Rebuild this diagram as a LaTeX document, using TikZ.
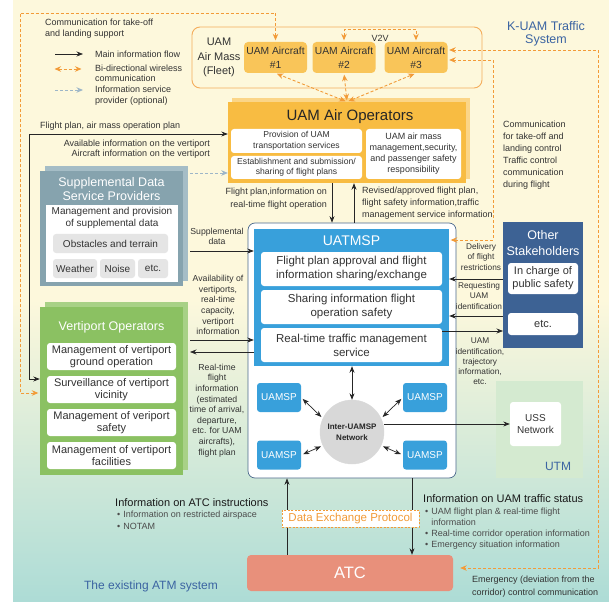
\documentclass[tikz,border=0pt]{standalone}
\usepackage{fontspec}
\setmainfont{Liberation Sans}
\usetikzlibrary{arrows.meta,calc}

\definecolor{bgtop}{HTML}{FDF8DC}
\definecolor{bgmid}{HTML}{E4EFD6}
\definecolor{bgbot}{HTML}{ADDCD6}
\definecolor{orng}{HTML}{F29B38}
\definecolor{fleetline}{HTML}{F4AD5C}
\definecolor{acfill}{HTML}{F9C559}
\definecolor{opfill}{HTML}{F8BC42}
\definecolor{opback}{HTML}{FBD587}
\definecolor{uatmblue}{HTML}{38A0DB}
\definecolor{frame}{HTML}{4C6A8C}
\definecolor{suppfront}{HTML}{86A3AE}
\definecolor{suppback}{HTML}{A5BDC6}
\definecolor{vertfront}{HTML}{8BC162}
\definecolor{vertback}{HTML}{A8D186}
\definecolor{othblue}{HTML}{3D6294}
\definecolor{utmgreen}{HTML}{D4EAD0}
\definecolor{atcred}{HTML}{E8907B}
\definecolor{netgray}{HTML}{D8D8D8}
\definecolor{txtblue}{HTML}{3B64A2}
\definecolor{grayblue}{HTML}{9DB6C8}

\newcommand{\setfs}[2]{\fontsize{#1}{#2}\selectfont}

\tikzset{
  flow/.style={-{Stealth[length=6.5pt,width=5pt]}, line width=0.7pt, black!85},
  biflow/.style={{Stealth[length=6.5pt,width=5pt]}-{Stealth[length=6.5pt,width=5pt]}, line width=0.7pt, black!85},
  wireless/.style={{Stealth[length=6.5pt,width=5.5pt]}-{Stealth[length=6.5pt,width=5.5pt]}, orng, line width=0.9pt, dash pattern=on 3pt off 2pt, shorten <=1.5pt, shorten >=1.5pt},
  optflow/.style={-{Stealth[length=6.5pt,width=5.5pt]}, grayblue, line width=0.9pt, dash pattern=on 3pt off 2pt},
  note/.style={font=\setfs{9}{11}, align=center, inner sep=0pt, text=black!80},
  layer/.style={inner sep=0pt},
  whitebox/.style={fill=white, rounded corners=3pt, align=center, inner sep=0pt, text=black!80},
  graybox/.style={fill=black!10, rounded corners=3pt, inner sep=0pt, text=black!80, font=\setfs{10}{12}},
  aircraft/.style={fill=acfill, rounded corners=4pt, minimum width=63pt, minimum height=31pt, inner sep=0pt, align=center, font=\setfs{10.3}{14}, text=black!80},
  vbox/.style={whitebox, minimum width=129pt, minimum height=27pt, font=\setfs{11}{11.8}},
  sbox/.style={whitebox, minimum width=181pt, minimum height=34pt, font=\setfs{11.5}{14}},
  uamsp/.style={fill=uatmblue, rounded corners=3pt, text=white, inner sep=0pt, minimum width=44pt, minimum height=29pt, font=\setfs{10}{12}},
}

\begin{document}
\begin{tikzpicture}[x=1pt,y=-1pt]
			%%%%% START %%%%%
			\useasboundingbox (0,0) rectangle (609,601);
			\fill[white] (0,0) rectangle (609,601);
			\fill[bgtop] (13,0) rectangle (609,300);
			\shade[top color=bgtop,middle color=bgmid,bottom color=bgbot] (13,299.5) rectangle (609,601);
			
			% legend
			\node[note,anchor=north west,align=left] (leg0) at (45,19) {Communication for take-off\\and landing support};
			\coordinate (lg1) at (55,54);
			\coordinate (lg2) at (53,69);
			\coordinate (lg3) at (55,90);
			\draw[flow] (lg1) -- ++(28,0);
			\draw[wireless] (lg2) -- ++(30,0);
			\draw[optflow] (lg3) -- ++(28,0);
			\node[note,anchor=west,align=left] (leg1) at (95,54) {Main information flow};
			\node[note,anchor=west,align=left,font=\setfs{9}{10.5}] (leg2) at (95,73.5) {Bi-directional wireless\\communication};
			\node[note,anchor=west,align=left,font=\setfs{9}{10.5}] (leg3) at (95,95.5) {Information service\\provider (optional)};
			
			\node[font=\setfs{12.5}{13},text=txtblue,align=center] (kuam) at (546,33.5) {K-UAM Traffic\\System};
			
			% fleet
			\node[draw=fleetline,line width=0.9pt,rounded corners=8pt,minimum width=290pt,minimum height=61pt,inner sep=0pt] (fleet) at (337,57.5) {};
			\node[font=\setfs{11}{14.5},align=center,text=black!80] (fleetlbl) at (219,57.5) {UAM\\Air Mass\\(Fleet)};
			\node[aircraft] (ac1) at (275.5,57.5) {UAM Aircraft\\\#1};
			\node[aircraft] (ac2) at (344,57.5) {UAM Aircraft\\\#2};
			\node[aircraft] (ac3) at (416,57.5) {UAM Aircraft\\\#3};
			\node[note] (v2v) at (380,38) {V2V};
			
			% UAM air operators
			\node[layer,fill=opback,minimum width=238pt,minimum height=81pt] (opsb) at (351,138.5) {};
			\node[layer,fill=opfill,minimum width=238pt,minimum height=81pt] (ops) at (347,142.5) {};
			\node[font=\setfs{15}{18},text=black!85] (opstitle) at (350,117) {UAM Air Operators};
			\node[whitebox,font=\setfs{8.6}{10.5},minimum width=131pt,minimum height=24pt] (op1) at (296.5,141) {Provision of UAM\\transportation services};
			\node[whitebox,font=\setfs{8.6}{10.5},minimum width=131pt,minimum height=23pt] (op2) at (296.5,167.5) {Establishment and submission/\\sharing of flight plans};
			\node[whitebox,font=\setfs{9}{11},minimum width=95pt,minimum height=50pt] (op3) at (413.5,154) {UAM air mass\\management,security,\\and passenger safety\\responsibility};
			
			% supplemental data
			\node[layer,fill=suppback,minimum width=143pt,minimum height=115pt] (suppb) at (116.5,223.5) {};
			\node[layer,fill=suppfront,minimum width=143pt,minimum height=115pt] (supp) at (111.5,228.5) {};
			\node[font=\setfs{12.5}{14.5},text=white,align=center] (supptitle) at (111.5,189) {Supplemental Data\\Service Providers};
			\node[layer,fill=white,minimum width=132pt,minimum height=77pt] (supppanel) at (112,243.5) {};
			\node[font=\setfs{10}{12},align=center,text=black!80] (supptext) at (112,218) {Management and provision\\of supplemental data};
			\node[graybox,minimum width=115pt,minimum height=19pt] (obst) at (110.5,243.5) {Obstacles and terrain};
			\node[graybox,minimum width=44pt,minimum height=19pt] (weather) at (75,268.5) {Weather};
			\node[graybox,minimum width=35pt,minimum height=19pt] (noise) at (117.5,268.5) {Noise};
			\node[graybox,minimum width=30pt,minimum height=19pt] (suppetc) at (153,268.5) {etc.};
			
			% vertiport operators
			\node[layer,fill=vertback,minimum width=143pt,minimum height=168pt] (vertb) at (116.5,386) {};
			\node[layer,fill=vertfront,minimum width=143pt,minimum height=168pt] (vert) at (111.5,391) {};
			\node[font=\setfs{12.5}{15},text=white] (verttitle) at (111.5,327) {Vertiport Operators};
			\node[vbox] (v1) at (111.5,356.5) {Management of vertiport\\ground operation};
			\node[vbox] (v2) at (111.5,389.5) {Surveillance of vertiport\\vicinity};
			\node[vbox] (v3) at (111.5,422.5) {Management of veriport\\safety};
			\node[vbox] (v4) at (111.5,455.5) {Management of vertiport\\facilities};
			
			% UATMSP
			\node[draw=frame,line width=0.7pt,fill=white,rounded corners=7pt,minimum width=208pt,minimum height=255pt,inner sep=0pt] (uatm) at (352,350.5) {};
			\node[layer,fill=uatmblue,minimum width=195pt,minimum height=137pt] (blue) at (351.5,297.5) {};
			\node[font=\setfs{14}{16},text=white] (uatmtitle) at (351.5,241) {UATMSP};
			\node[sbox] (w1) at (351.5,269) {Flight plan approval and flight\\information sharing/exchange};
			\node[sbox] (w2) at (351.5,307) {Sharing information flight\\operation safety};
			\node[sbox] (w3) at (351.5,345) {Real-time traffic management\\service};
			\node[uamsp] (u1) at (279,397.5) {UAMSP};
			\node[uamsp] (u2) at (425,397.5) {UAMSP};
			\node[uamsp] (u3) at (279,455) {UAMSP};
			\node[uamsp] (u4) at (425,455) {UAMSP};
			\node[circle,fill=netgray,draw=black!15,minimum size=64pt,inner sep=0pt,font=\bfseries\setfs{8}{11},align=center,text=black!85] (net) at (352,432) {Inter-UAMSP\\Network};
			
			% other stakeholders, UTM
			\node[layer,fill=othblue,minimum width=80pt,minimum height=126pt] (other) at (543,285) {};
			\node[font=\setfs{12.5}{16},text=white,align=center] (othtitle) at (543,243) {Other\\Stakeholders};
			\node[whitebox,font=\setfs{11}{13},minimum width=70pt,minimum height=31pt] (oth1) at (543,278.5) {In charge of\\public safety};
			\node[whitebox,font=\setfs{11}{13},minimum width=70pt,minimum height=22pt] (oth2) at (543,324) {etc.};
			\node[layer,fill=utmgreen,minimum width=87pt,minimum height=97pt] (utm) at (539.5,429.5) {};
			\node[whitebox,font=\setfs{10}{12},minimum width=51pt,minimum height=44pt] (uss) at (535.5,424) {USS\\Network};
			\node[font=\setfs{12}{14},text=txtblue] (utmlbl) at (558,466) {UTM};
			
			% ATC
			\node[fill=atcred,rounded corners=4pt,minimum width=206pt,minimum height=36pt,inner sep=0pt,font=\setfs{16.5}{18},text=white] (atc) at (350,573) {ATC};
			
			% main information flow
			\coordinate (fl) at (29,134);
			\coordinate (vfl) at (29,379);
			\draw[biflow] (vfl -| vert.west) -- (vfl) -- (fl) -- (fl -| ops.west);
			\coordinate (gl) at (190,173);
			\draw[optflow] (gl) -- (gl -| ops.west);
			\coordinate (da) at (332,0);
			\coordinate (ua) at (354,0);
			\draw[flow] (da |- ops.south) -- (da |- uatm.north);
			\draw[flow] (ua |- uatm.north) -- (ua |- ops.south);
			\coordinate (sd) at (190,251);
			\draw[flow] (sd) -- (sd -| blue.west);
			\coordinate (va) at (190,340);
			\draw[flow] (va) -- (va -| blue.west);
			\coordinate (vb) at (190,352);
			\draw[flow] (vb -| blue.west) -- (vb);
			\coordinate (oa) at (503,279);
			\draw[flow] (oa) -- (oa -| blue.east);
			\coordinate (ob) at (503,316);
			\draw[flow] (ob) -- (ob -| blue.east);
			\coordinate (oc) at (503,331);
			\draw[flow] (oc -| w3.east) -- (oc);
			\draw[biflow] (net.north) -- (net.north |- blue.south);
			\draw[biflow,shorten <=2pt,shorten >=2pt] (u1.east) -- (net.155);
			\draw[biflow,shorten <=2pt,shorten >=2pt] (u2.west) -- (net.25);
			\draw[biflow,shorten <=2pt,shorten >=2pt] (u3.east) -- (net.205);
			\draw[biflow,shorten <=2pt,shorten >=2pt] (u4.west) -- (net.335);
			\draw[flow] (net.east |- uss.west) -- (uss.west);
			\coordinate (ax) at (287,0);
			\coordinate (bx) at (412,0);
			\draw[flow] (ax |- atc.north) -- (ax |- uatm.south);
			\draw[flow] (bx |- uatm.south) -- (bx |- atc.north);
			
			% wireless communication
			\coordinate (tl) at (20,13);
			\coordinate (bl) at (20,393);
			\draw[wireless] (bl -| vert.west) -- (bl) -- (tl) -- (tl -| ac1.north) -- (ac1.north);
			\draw[wireless] (ac2.north) -- ++(0,-12) -| (ac3.north);
			\draw[wireless] (ops.north) -- (ac1.south);
			\draw[wireless] (ops.north) -- (ac2.south);
			\draw[wireless] (ops.north) -- (ac3.south);
			\coordinate (er) at (598,50);
			\coordinate (eb) at (598,568);
			\draw[wireless,shorten >=7pt] (er -| ac3.east) -- (er) -- (eb) -- (eb -| atc.east);
			\coordinate (cr) at (493,60);
			\coordinate (cb) at (493,240);
			\draw[wireless] (cr -| ac3.east) -- (cr) -- (cb) -- (cb -| blue.east);
			
			\node[fill=white,draw=orng,dash pattern=on 2pt off 1.5pt,line width=0.6pt,font=\setfs{11.5}{13},text=orng,minimum width=137pt,minimum height=17pt,inner sep=0pt] (dep) at (350.5,518.5) {Data Exchange Protocol};
			
			% labels
			\node[note,anchor=west] (fpl) at (40,126) {Flight plan, air mass operation plan};
			\node[note,anchor=east,align=right,font=\setfs{9}{10.5}] (avl) at (210,149) {Available information on the vertiport\\Aircraft information on the vertiport};
			\node[note,anchor=east,align=right,font=\setfs{9}{12.5}] (fpi) at (327,198.5) {Flight plan,information on\\real-time flight operation};
			\node[note,anchor=west,align=left,font=\setfs{9}{12}] (rev) at (362,203) {Revised/approved flight plan,\\flight safety information,traffic\\management service information};
			\node[note,font=\setfs{8.7}{10.6}] (suplbl) at (217,236.5) {Supplemental\\data};
			\node[note,font=\setfs{8.7}{10.6}] (avail) at (218,305) {Availability of\\vertiports,\\real-time\\capacity,\\vertiport\\information};
			\node[note,font=\setfs{8.7}{10.6}] (rtfi) at (217,410.5) {Real-time\\flight\\information\\(estimated\\time of arrival,\\departure,\\etc. for UAM\\aircrafts),\\flight plan};
			\node[note,font=\setfs{8.3}{10.2}] (dlv) at (481,257) {Delivery\\of flight\\restrictions};
			\node[note,font=\setfs{8.3}{10.2}] (req) at (479,296) {Requesting\\UAM\\identification};
			\node[note,font=\setfs{8.3}{10.2}] (uid) at (480,361.5) {UAM\\identification,\\trajectory\\information,\\etc.};
			\node[note,anchor=west,align=left,font=\setfs{9}{12}] (ctl) at (503,155) {Communication\\for take-off and\\landing control\\Traffic control\\communication\\during flight};
			
			\node[font=\setfs{11}{13},text=black!90,anchor=west,inner sep=0pt] (atcinst) at (115,503) {Information on ATC instructions};
			\node[anchor=north west,inner sep=0pt,font=\setfs{9}{12},text=black!70] (atclist) at (117,509) {\begin{tabular}{@{}l@{\hspace{3pt}}l@{}}•&Information on restricted airspace\\•&NOTAM\end{tabular}};
			\node[font=\setfs{11}{13},text=black!90,anchor=west,inner sep=0pt] (uamstat) at (423,499) {Information on UAM traffic status};
			\node[anchor=north west,inner sep=0pt,font=\setfs{9}{11},text=black!70] (uamlist) at (425,507) {\begin{tabular}{@{}l@{\hspace{3pt}}l@{}}•&UAM flight plan \& real-time flight\\&information\\•&Real-time corridor operation information\\•&Emergency situation information\end{tabular}};
			\node[note,anchor=west,align=left,font=\setfs{9}{13}] (emg) at (472,586.5) {Emergency (deviation from the\\corridor) control communication};
			\node[font=\setfs{12}{14},text=txtblue] (atm) at (151,586) {The existing ATM system};
			%%%%% END %%%%%
\end{tikzpicture}
\end{document}
